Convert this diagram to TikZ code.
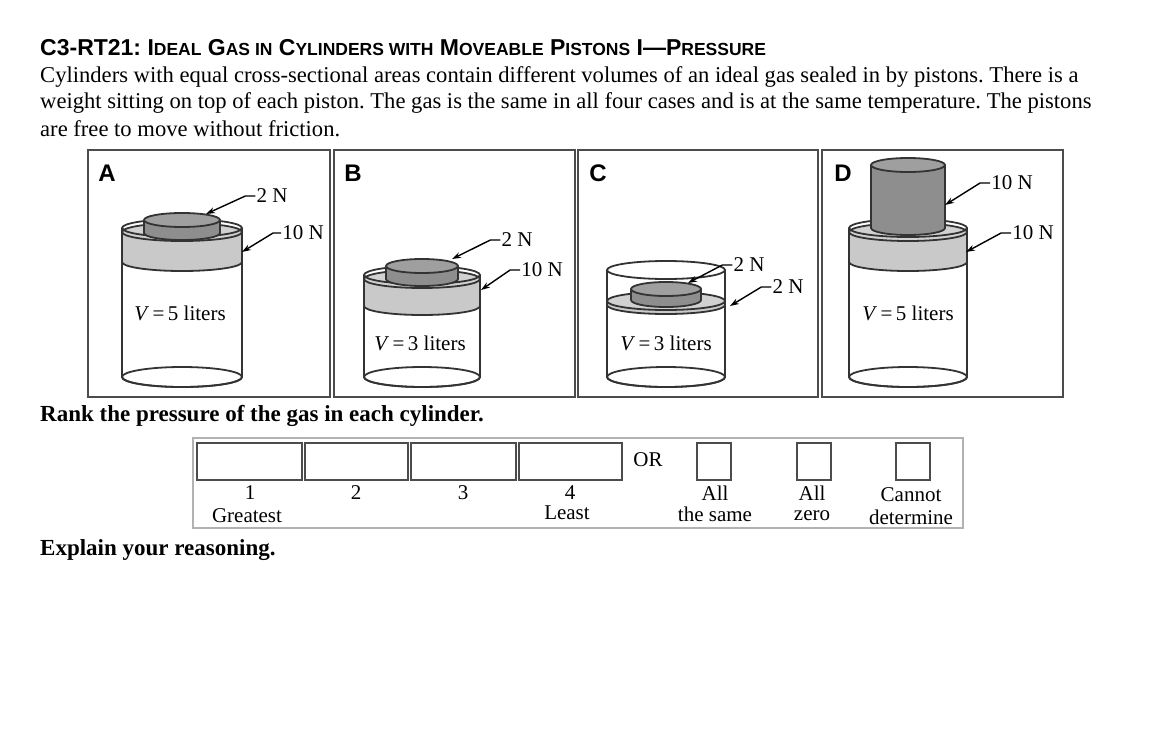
\documentclass[tikz,border=0pt]{standalone}
\usepackage{fontspec}
\setmainfont{Liberation Serif}
\setsansfont{Liberation Sans}
\usetikzlibrary{arrows.meta}
\definecolor{band}{HTML}{C9C9C9}
\definecolor{wt}{HTML}{8E8E8E}
\tikzset{cl/.style={line width=1.8pt,draw=black!80}}
\newcommand\cylbody[4]{% cx rx ytop ybot
 \draw[cl,fill=white] (#1-#2,#3) -- (#1-#2,#4) arc[start angle=180,end angle=0,x radius=#2,y radius=10] -- (#1+#2,#3);
 \draw[cl] (#1,#4) ellipse[x radius=#2,y radius=10];
 \draw[cl] (#1,#3) ellipse[x radius=#2,y radius=9];}
\newcommand\disk[6]{% cx rx y1 y2 color ry
 \fill[#5] (#1-#2,#3) -- (#1-#2,#4) arc[start angle=180,end angle=0,x radius=#2,y radius=#6] -- (#1+#2,#3) arc[start angle=0,end angle=180,x radius=#2,y radius=#6] -- cycle;
 \draw[cl] (#1-#2,#3) -- (#1-#2,#4) arc[start angle=180,end angle=0,x radius=#2,y radius=#6] -- (#1+#2,#3);
 \draw[cl,fill=#5!85] (#1,#3) ellipse[x radius=#2,y radius=#6];}
\newcommand\rimfront[3]{%
 \draw[cl] (#1-#2,#3) arc[start angle=180,end angle=0,x radius=#2,y radius=9];}
\newcommand\vol[1]{\textit{V}\,=\,#1 liters}
\newcommand\sm[1]{{\fontsize{17.5}{19}\selectfont #1}}
\frenchspacing
\begin{document}
\begin{tikzpicture}[x=1pt,y=-1pt,
  lab/.style={font=\fontsize{21}{23}\selectfont,inner sep=1pt},
  ptr/.style={line width=1.4pt,-{Stealth[length=9pt,width=6pt]}},
  box/.style={draw=black!70,line width=1.2pt},
  body/.style={font=\fontsize{22.6}{25}\selectfont,anchor=west,inner sep=0pt}]
\useasboundingbox (0,0) rectangle (1156,744);
\node[body,font=\sffamily\bfseries\fontsize{23}{25}\selectfont] (title) at (40,48) {C3-RT21: I\sm{DEAL} G\sm{AS IN} C\sm{YLINDERS WITH} M\sm{OVEABLE} P\sm{ISTONS} I—P\sm{RESSURE}};
\node[body] (l1) at (40,77) {Cylinders with equal cross-sectional areas contain different volumes of an ideal gas sealed in by pistons. There is a};
\node[body] (l2) at (40,103) {weight sitting on top of each piston. The gas is the same in all four cases and is at the same temperature. The pistons};
\node[body] (l3) at (40,129) {are free to move without friction.};
\draw[box] (88,150) rectangle (330,397);
\draw[box] (334,150) rectangle (575,397);
\draw[box] (578,150) rectangle (818,397);
\draw[box] (822,150) rectangle (1063,397);
\foreach \x/\t in {107/A,353/B,598/C,843/D}
  \node[font=\sffamily\bfseries\fontsize{24}{26}\selectfont] (p\t) at (\x,173) {\t};
% A
\cylbody{182}{60}{228}{377}
\disk{182}{60}{232}{262}{band}{9}
\rimfront{182}{60}{228}
\disk{182}{38}{220}{233}{wt}{7}
\node[lab] (va) at (180,313) {\vol{5}};
\node[lab] (a2) at (272,196) {2 N};
\node[lab] (a10) at (303,233) {10 N};
\coordinate (ta2) at (206,214); \coordinate (ta10) at (242,252);
\draw[ptr] (a2.west) -- ++(-10,0) -- (ta2);
\draw[ptr] (a10.west) -- ++(-8,0) -- (ta10);
% B
\cylbody{422}{58}{275}{377}
\disk{422}{58}{279}{306}{band}{9}
\rimfront{422}{58}{275}
\disk{422}{36}{266}{279}{wt}{7}
\node[lab] (vb) at (420,343) {\vol{3}};
\node[lab] (b2) at (517,240) {2 N};
\node[lab] (b10) at (542,270) {10 N};
\coordinate (tb2) at (452,259); \coordinate (tb10) at (481,290);
\draw[ptr] (b2.west) -- ++(-10,0) -- (tb2);
\draw[ptr] (b10.west) -- ++(-10,0) -- (tb10);
% C
\cylbody{666}{59}{270}{377}
\disk{666}{59}{301}{305}{band}{9}
\disk{666}{35}{289}{300}{wt}{7}
\node[lab] (vc) at (666,343) {\vol{3}};
\node[lab] (c2a) at (749,265) {2 N};
\node[lab] (c2b) at (788,287) {2 N};
\coordinate (tc2a) at (688,283); \coordinate (tc2b) at (730,306);
\draw[ptr] (c2a.west) -- ++(-10,0) -- (tc2a);
\draw[ptr] (c2b.west) -- ++(-10,0) -- (tc2b);
% D
\cylbody{908}{59}{228}{377}
\disk{908}{59}{232}{262}{band}{9}
\rimfront{908}{59}{228}
\disk{908}{37}{165}{228}{wt}{7}
\node[lab] (vd) at (908,313) {\vol{5}};
\node[lab] (d10a) at (1012,183) {10 N};
\node[lab] (d10b) at (1033,233) {10 N};
\coordinate (td10a) at (945,205); \coordinate (td10b) at (966,252);
\draw[ptr] (d10a.west) -- ++(-10,0) -- (td10a);
\draw[ptr] (d10b.west) -- ++(-10,0) -- (td10b);
% ranking
\node[body,font=\bfseries\fontsize{23}{25}\selectfont] (rank) at (40,416) {Rank the pressure of the gas in each cylinder.};
\draw[box,draw=black!30] (193,438) rectangle (963,528);
\foreach \a/\b/\n in {197/302/r1,305/408/r2,411/516/r3,519/622/r4}
  \draw[box] (\a,443) rectangle (\b,480);
\foreach \a/\n in {697/s1,797/s2,896/s3}
  \draw[box] (\a,443) rectangle (\a+34,480);
\node[lab] (or) at (648,460) {OR};
\node[lab] (n1) at (250,493) {1};
\node[lab] (g) at (247,516) {Greatest};
\node[lab] (n2) at (356,493) {2};
\node[lab] (n3) at (463,493) {3};
\node[lab] (n4) at (570,493) {4};
\node[lab] (le) at (567,513) {Least};
\node[lab] (as1) at (715,493) {All};
\node[lab] (as2) at (715,514) {the same};
\node[lab] (az1) at (812,493) {All};
\node[lab] (az2) at (812,516) {zero};
\node[lab] (cd1) at (911,495) {Cannot};
\node[lab] (cd2) at (911,517) {determine};
\node[body,font=\bfseries\fontsize{23}{25}\selectfont] (ex) at (40,550) {Explain your reasoning.};
\end{tikzpicture}
\end{document}
